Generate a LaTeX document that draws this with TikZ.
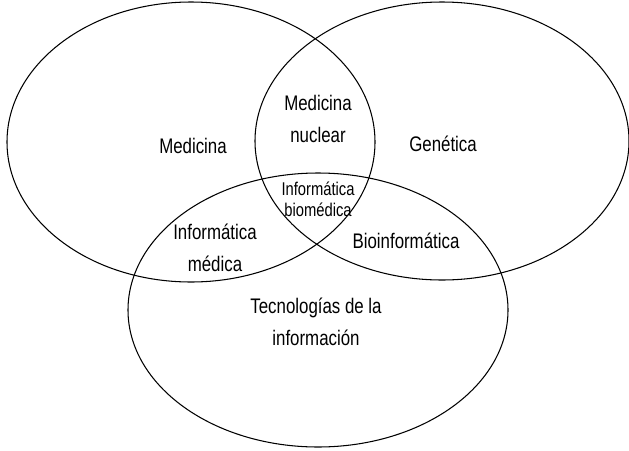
\documentclass[tikz,border=0pt]{standalone}
\usepackage{fontspec}
\setmainfont{Liberation Sans}[FakeStretch=0.8]
\usepackage{tikz}
\usetikzlibrary{positioning}

\begin{document}
\begin{tikzpicture}[x=0.02cm, y=-0.02cm,
      set/.style={draw=black, line width=0.6pt},
      lbl/.style={font=\fontsize{12}{18}\selectfont, align=center, inner sep=0pt},
      small/.style={font=\fontsize{10.5}{12}\selectfont, align=center, inner sep=0pt}
    ]
      \useasboundingbox (0,0) rectangle (629,450);
      % the three sets
      \draw[set] (191,142) ellipse [x radius=184, y radius=140];
      \draw[set] (442,141) ellipse [x radius=187, y radius=139];
      \draw[set] (318,310) ellipse [x radius=190, y radius=137];

      \node[lbl] (med) at (193,146) {Medicina};
      \node[lbl] (gen) at (443,144) {Genética};
      \node[lbl] (tec) at (316,322) {Tecnologías de la\\información};
      \node[lbl] (nuc) at (318,119) {Medicina\\nuclear};
      \node[lbl] (imed) at (215,248) {Informática\\médica};
      \node[lbl] (bio) at (406,241) {Bioinformática};
      \node[small] (ibio) at (318,199) {Informática\\biomédica};
    \end{tikzpicture}
\end{document}
